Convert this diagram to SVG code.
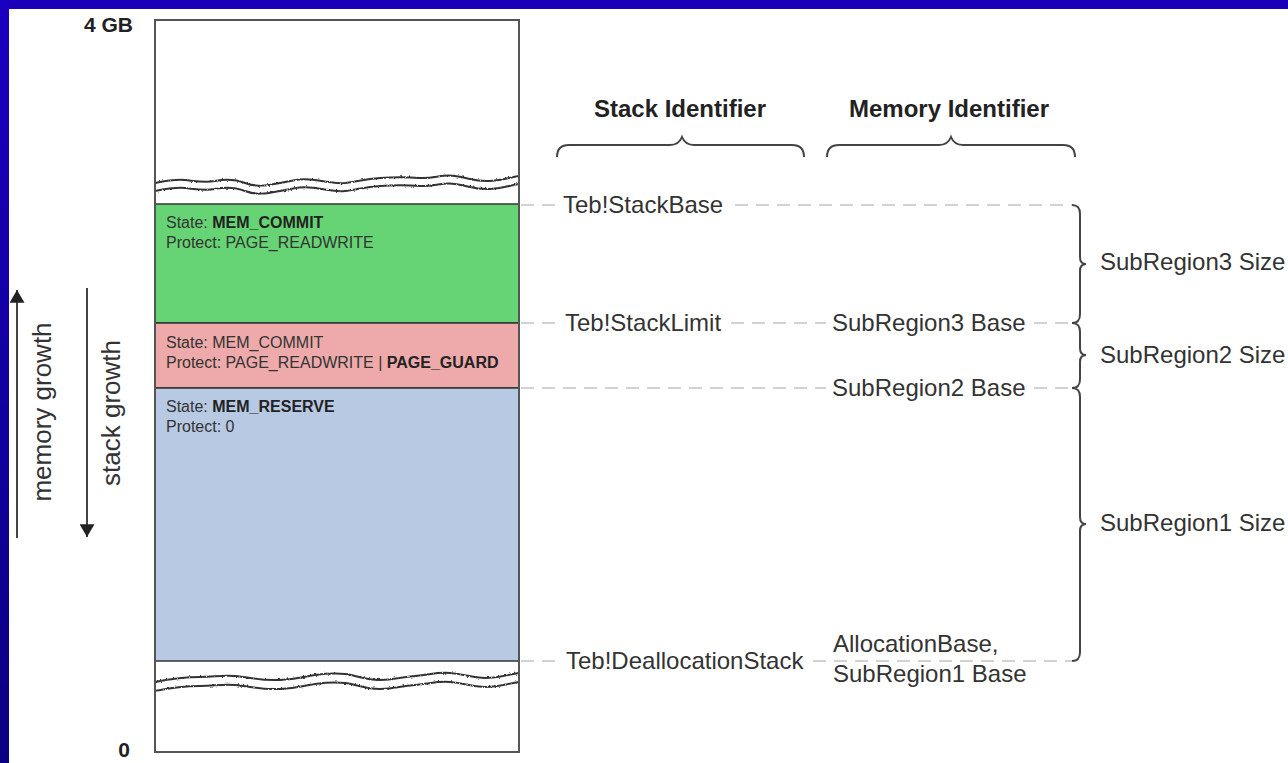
<svg xmlns="http://www.w3.org/2000/svg" width="1288" height="763" viewBox="0 0 1288 763">
  <defs>
    <linearGradient id="bandLeft" x1="0" y1="0" x2="0" y2="1">
      <stop offset="0" stop-color="#1a00bf"/>
      <stop offset="1" stop-color="#0b0082"/>
    </linearGradient>
    <filter id="rough" x="-5%" y="-50%" width="110%" height="200%">
      <feTurbulence type="fractalNoise" baseFrequency="0.45" numOctaves="2" seed="3" result="n"/>
      <feDisplacementMap in="SourceGraphic" in2="n" scale="2.5" xChannelSelector="R" yChannelSelector="G"/>
    </filter>
    <marker id="head" viewBox="0 0 12 14" refX="12" refY="7" markerWidth="13" markerHeight="15" markerUnits="userSpaceOnUse" orient="auto">
      <path d="M0,0 L12,7 L0,14 z" fill="#222"/>
    </marker>
    <style>
      .lbl { font-family: "Liberation Sans", Arial, sans-serif; font-size: 24px; fill: #333; }
      .hdr { font-family: "Liberation Sans", Arial, sans-serif; font-size: 24px; font-weight: bold; fill: #222; text-anchor: middle; }
      .axis { font-family: "Liberation Sans", Arial, sans-serif; font-size: 21px; font-weight: bold; fill: #222; text-anchor: end; }
      .reg { font-family: "Liberation Sans", Arial, sans-serif; font-size: 16px; fill: #333; }
      .reg .b { font-weight: bold; fill: #222; }
      .rot { font-family: "Liberation Sans", Arial, sans-serif; font-size: 26px; fill: #333; text-anchor: middle; }
      .guide { stroke: #d2d2d2; stroke-width: 2; stroke-dasharray: 13 8; fill: none; }
      .brace { stroke: #444; stroke-width: 2; fill: none; }
      .wave { stroke: #333; stroke-width: 2; fill: none; }
      .arrow { stroke: #444; stroke-width: 2; fill: none; marker-end: url(#head); }
    </style>
  </defs>

  <!-- page background with blue frame on top and left -->
  <rect x="0" y="0" width="1288" height="763" fill="#ffffff"/>
  <rect x="0" y="0" width="1288" height="9" fill="#1a00b9"/>
  <rect x="0" y="0" width="9" height="763" fill="url(#bandLeft)"/>

  <!-- address range labels -->
  <g id="axis-labels">
    <text class="axis" x="133" y="32">4 GB</text>
    <text class="axis" x="130" y="757">0</text>
  </g>

  <!-- address space column -->
  <g id="address-space">
    <rect x="155" y="20" width="364" height="732" fill="#ffffff"/>
  </g>

  <g id="region-commit">
    <rect x="155" y="204" width="364" height="119" fill="#66d474" stroke="#333" stroke-width="1.5"/>
    <text class="reg" x="166" y="228">State: <tspan class="b">MEM_COMMIT</tspan></text>
    <text class="reg" x="166" y="248">Protect: PAGE_READWRITE</text>
  </g>

  <g id="region-guard">
    <rect x="155" y="323" width="364" height="65" fill="#eeaaaa" stroke="#333" stroke-width="1.5"/>
    <text class="reg" x="166" y="348">State: MEM_COMMIT</text>
    <text class="reg" x="166" y="368">Protect: PAGE_READWRITE | <tspan class="b">PAGE_GUARD</tspan></text>
  </g>

  <g id="region-reserve">
    <rect x="155" y="388" width="364" height="273" fill="#b8c9e3" stroke="#333" stroke-width="1.5"/>
    <text class="reg" x="166" y="412">State: <tspan class="b">MEM_RESERVE</tspan></text>
    <text class="reg" x="166" y="432">Protect: 0</text>
  </g>

  <!-- torn edges marking omitted address ranges -->
  <g id="breaks" filter="url(#rough)">
    <path class="wave" d="M155,183 C165,181 175,179 185,180 S205,183 215,181 S235,179 245,183 S265,186 280,183 S300,178 315,180 S335,184 345,183 S365,179 380,178 S405,177 420,178 S440,174 455,176 S475,182 490,181 S510,177 519,176"/>
    <path class="wave" d="M155,191 C165,189 175,187 185,188 S205,191 215,189 S235,187 245,191 S265,194 280,191 S300,186 315,188 S335,192 345,191 S365,187 380,186 S405,185 420,186 S440,182 455,184 S475,190 490,189 S510,185 519,184"/>
    <path class="wave" d="M155,682 C170,679 185,677 200,677 S220,675 235,676 S260,681 280,680 S300,677 315,675 S335,673 345,674 S365,680 380,680 S400,677 415,676 S435,672 450,673 S470,678 485,678 S505,675 519,673"/>
    <path class="wave" d="M155,691 C170,688 185,686 200,686 S220,684 235,685 S260,690 280,689 S300,686 315,684 S335,682 345,683 S365,689 380,689 S400,686 415,685 S435,681 450,682 S470,687 485,687 S505,684 519,682"/>
  </g>

  <rect id="column-outline" x="155" y="20" width="364" height="732" fill="none" stroke="#555" stroke-width="2"/>

  <!-- column headers -->
  <g id="header-stack">
    <text class="hdr" x="680" y="117">Stack Identifier</text>
  </g>
  <g id="header-memory">
    <text class="hdr" x="949" y="117">Memory Identifier</text>
  </g>

  <!-- boundary labels -->
  <g id="label-stackbase"><text class="lbl" x="563" y="213">Teb!StackBase</text></g>
  <g id="label-stacklimit"><text class="lbl" x="565" y="331">Teb!StackLimit</text></g>
  <g id="label-sub3base"><text class="lbl" x="832" y="331">SubRegion3 Base</text></g>
  <g id="label-sub2base"><text class="lbl" x="832" y="396">SubRegion2 Base</text></g>
  <g id="label-dealloc"><text class="lbl" x="566" y="669">Teb!DeallocationStack</text></g>
  <g id="label-allocbase">
    <text class="lbl" x="833" y="652">AllocationBase,</text>
    <text class="lbl" x="833" y="682">SubRegion1 Base</text>
  </g>
  <g id="label-sizes">
    <text class="lbl" x="1100" y="270">SubRegion3 Size</text>
    <text class="lbl" x="1100" y="363">SubRegion2 Size</text>
    <text class="lbl" x="1100" y="531">SubRegion1 Size</text>
  </g>

  <!-- growth direction labels -->
  <g id="memory-growth">
    <text class="rot" transform="translate(51,412) rotate(-90)">memory growth</text>
  </g>
  <g id="stack-growth">
    <text class="rot" transform="translate(120,413) rotate(-90)">stack growth</text>
  </g>

  <g id="connectors">
    <!-- dashed guides from region boundaries -->
    <path class="guide" d="M521,205 H557 M735,205 H1072"/>
    <path class="guide" d="M521,323 H559 M731,323 H826 M1034,323 H1072"/>
    <path class="guide" d="M521,388 H826 M1034,388 H1072"/>
    <path class="guide" d="M521,661 H560 M813,661 H1072"/>

    <!-- header braces -->
    <path class="brace" d="M557,157 C557,149 561,145 569,145 L670,145 C677,145 680,142 682,137 C684,142 687,145 694,145 L792,145 C800,145 804,149 804,157"/>
    <path class="brace" d="M827,157 C827,149 831,145 839,145 L939,145 C946,145 949,142 951,137 C953,142 956,145 963,145 L1063,145 C1071,145 1075,149 1075,157"/>

    <!-- size braces -->
    <path class="brace" d="M1072,205 C1078,205 1080,208 1080,214 L1080,257 C1080,261 1082,264 1086,264 C1082,264 1080,267 1080,271 L1080,314 C1080,320 1078,323 1072,323"/>
    <path class="brace" d="M1072,323 C1078,323 1080,326 1080,332 L1080,348 C1080,352 1082,355 1086,355 C1082,355 1080,358 1080,362 L1080,379 C1080,385 1078,388 1072,388"/>
    <path class="brace" d="M1072,388 C1078,388 1080,391 1080,397 L1080,517 C1080,521 1082,524 1086,524 C1082,524 1080,527 1080,531 L1080,652 C1080,658 1078,661 1072,661"/>

    <!-- growth arrows -->
    <path class="arrow" d="M17,538 V290"/>
    <path class="arrow" d="M87,288 V537"/>
  </g>
</svg>
